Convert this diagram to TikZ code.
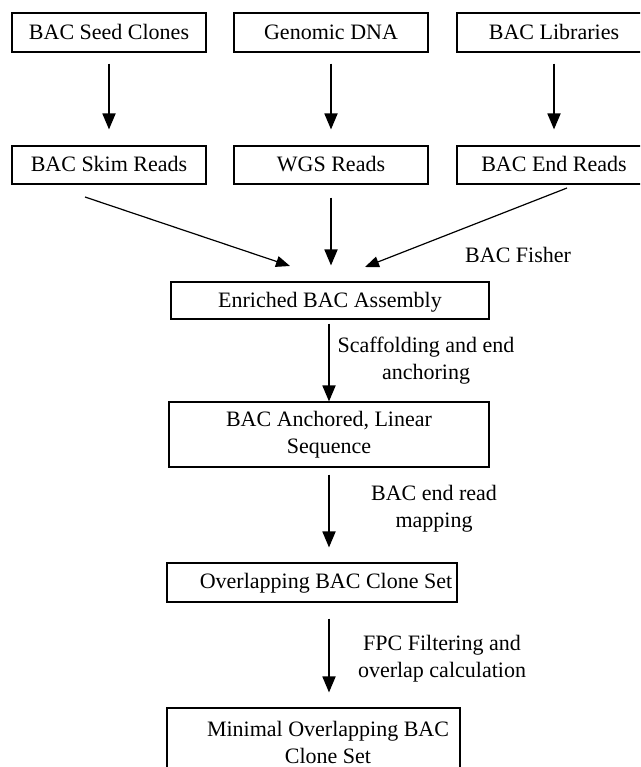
\documentclass[tikz,border=0pt]{standalone}
\usepackage{fontspec}
\setmainfont{Liberation Serif}
\usetikzlibrary{arrows.meta}
\begin{document}
\begin{tikzpicture}[x=1pt,y=-1pt,
  every node/.style={font=\fontsize{22}{26.5}\selectfont},
  box/.style={draw, line width=1.1pt, inner sep=0pt, text height=15pt, text depth=1pt},
  vbox/.style={draw, line width=1.1pt, inner sep=0pt, align=center},
  lbl/.style={inner sep=0pt, align=center},
  arr/.style={line width=1.8pt, -{Triangle[length=16pt,width=13pt]}},
  darr/.style={line width=1.2pt, -{Triangle[length=14pt,width=11pt]}}
]
\useasboundingbox (0,0) rectangle (640,767);
\clip (0,0) rectangle (640,767);
\fill[white] (0,0) rectangle (640,767);

% row 1
\node[box, minimum width=194pt, minimum height=39pt] (seed) at (109,32.5) {BAC Seed Clones};
\node[box, minimum width=194pt, minimum height=39pt] (gen) at (331,32.5) {Genomic DNA};
\node[box, minimum width=194pt, minimum height=39pt] (lib) at (554,32.5) {BAC Libraries};
% row 2
\node[box, minimum width=194pt, minimum height=38pt] (skim) at (109,165) {BAC Skim Reads};
\node[box, minimum width=194pt, minimum height=38pt] (wgs) at (331,165) {WGS Reads};
\node[box, minimum width=194pt, minimum height=38pt] (ends) at (554,165) {BAC End Reads};

\node[box, minimum width=318pt, minimum height=37pt] (enr) at (330,300.5) {Enriched BAC Assembly};
\node[vbox, minimum width=320pt, minimum height=65pt] (anc) at (329,434.5) {BAC Anchored, Linear\\Sequence};
\node[draw, line width=1.1pt, inner sep=0pt, minimum width=290pt, minimum height=39pt] (ovl) at (312,582.5) {};
\node[lbl, anchor=base] (ovltext) at (326,588) {Overlapping BAC Clone Set};
\node[draw, line width=1.1pt, inner sep=0pt, minimum width=293pt, minimum height=72pt] (mini) at (313.5,744) {};
\node[lbl, anchor=base] (minitext) at (328,763) {Minimal Overlapping BAC\\Clone Set};

% labels
\node[lbl, anchor=base west] (fisher) at (465,262) {BAC Fisher};
\node[lbl, anchor=base] (scaf) at (426,379) {Scaffolding and end\\anchoring};
\node[lbl, anchor=base] (map) at (434,527) {BAC end read\\mapping};
\node[lbl, anchor=base] (fpc) at (442,677) {FPC Filtering and\\overlap calculation};

% arrows row1 -> row2
\draw[arr, shorten <=11pt, shorten >=16pt] (seed) -- (skim);
\draw[arr, shorten <=11pt, shorten >=16pt] (gen) -- (wgs);
\draw[arr, shorten <=11pt, shorten >=16pt] (lib) -- (ends);

% converging arrows
\coordinate (dl0) at (85,197);
\coordinate (dl1) at (290,266);
\coordinate (dr0) at (567,188);
\coordinate (dr1) at (365,267);
\draw[darr] (dl0) -- (dl1);
\draw[arr, shorten <=13pt, shorten >=16pt] (wgs) -- (wgs |- enr.north);
\draw[darr] (dr0) -- (dr1);

% lower chain
\draw[arr, shorten <=4pt] (enr.south -| anc.north) -- (anc.north);
\draw[arr, shorten <=7pt, shorten >=15pt] (anc.south) -- (anc.south |- ovl.north);
\draw[arr, shorten <=16pt, shorten >=15pt] (ovl.south -| anc.south) -- (anc.south |- mini.north);
\end{tikzpicture}
\end{document}
